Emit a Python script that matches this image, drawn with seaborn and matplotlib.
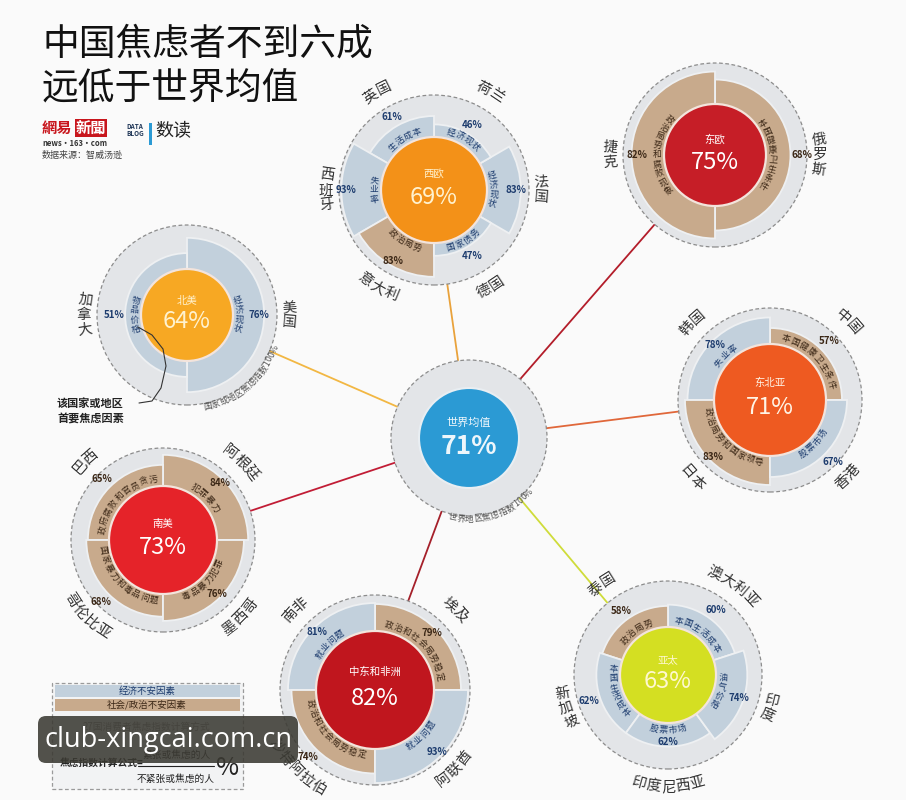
import numpy as np
import pandas as pd
import matplotlib
matplotlib.use("Agg")
import matplotlib.pyplot as plt
from matplotlib.patches import Wedge, Circle, Rectangle, FancyBboxPatch
import seaborn as sns

# ---- data ----
world_label = '世界均值'
world_value = 71

region_names = ['北美', '西欧', '东欧', '东北亚', '亚太', '中东和非洲', '南美']
region_values = [64, 69, 75, 71, 63, 82, 73]

countries = ['美国', '加拿大',
             '法国', '荷兰', '英国', '西班牙', '意大利', '德国',
             '俄罗斯', '捷克',
             '中国', '韩国', '日本', '香港',
             '澳大利亚', '泰国', '新加坡', '印度尼西亚', '印度',
             '埃及', '南非', '沙特阿拉伯', '阿联酋',
             '阿根廷', '巴西', '哥伦比亚', '墨西哥']
country_region = ['北美'] * 2 + ['西欧'] * 6 + ['东欧'] * 2 + ['东北亚'] * 4 + \
                 ['亚太'] * 5 + ['中东和非洲'] * 4 + ['南美'] * 4
country_values = [76, 51,
                  83, 46, 61, 93, 83, 47,
                  68, 82,
                  57, 78, 83, 67,
                  60, 58, 62, 62, 74,
                  79, 81, 74, 93,
                  84, 65, 68, 76]
factors = ['经济现状', '物品价格',
           '经济现状', '经济现状', '生活成本', '失业率', '政治局势', '国家债务',
           '本国健康卫生条件', '政治局势和腐败现象',
           '本国健康卫生条件', '失业率', '政治局势和国家领导', '股票市场',
           '本国生活成本', '政治局势', '本国生活成本', '股票市场', '油气价格',
           '政治和社会局势稳定', '就业问题', '政治和社会局势稳定', '就业问题',
           '犯罪暴力', '政府腐败和官员贪污', '国家暴力和毒品问题', '毒品暴力犯罪']
factor_kinds = ['经济', '经济',
                '经济', '经济', '经济', '经济', '社会', '经济',
                '社会', '社会',
                '社会', '经济', '社会', '经济',
                '经济', '社会', '经济', '经济', '经济',
                '社会', '经济', '社会', '经济',
                '社会', '社会', '社会', '社会']
legend_labels = ['经济不安因素', '社会/政治不安因素']

df = pd.DataFrame({'country': countries, 'region': country_region,
                   'value': country_values, 'factor': factors, 'kind': factor_kinds})

# ---- layout (pixel positions, y down) ----
W, H = 906, 800
world = dict(x=469, y=438, R=78, r=50, color='#2b9ad4')
layout = {
    '北美':     dict(x=187, y=315, R=90, r=46, start=-90, color='#f7a823', line='#f2b743', txt='#fff2cf'),
    '西欧':     dict(x=434, y=190, R=95, r=53, start=-30, color='#f39118', line='#e9a23b', txt='#fff2cf'),
    '东欧':     dict(x=715, y=155, R=92, r=51, start=-90, color='#c61e27', line='#b31d2a', txt='#ffffff'),
    '东北亚':   dict(x=770, y=400, R=92, r=56, start=0, color='#ee5a21', line='#e0673a', txt='#fff4e6'),
    '亚太':     dict(x=668, y=675, R=94, r=48, start=18, color='#d4df22', line='#cfdc3a', txt='#fff8d0'),
    '中东和非洲': dict(x=375, y=690, R=95, r=59, start=0, color='#c0161e', line='#a5202a', txt='#ffffff'),
    '南美':     dict(x=163, y=540, R=92, r=54, start=0, color='#e52329', line='#c11d36', txt='#ffffff'),
}
kind_colors = dict(zip(['经济', '社会'], ['#c2d0dc', '#c8aa8c']))
kind_text = {'经济': '#1d3c6e', '社会': '#3b2716'}

sns.set_theme(style="white")
plt.rcParams['font.family'] = ['Noto Sans CJK SC', 'DejaVu Sans']

bg = '#fafafa'
fig = plt.figure(figsize=(9.06, 8.0), dpi=100, facecolor=bg)
ax = fig.add_axes([0, 0, 1, 1])
ax.set_xlim(0, W)
ax.set_ylim(0, H)
ax.set_facecolor(bg)
ax.axis('off')


def is_side(theta):
    return abs(np.cos(np.radians(theta))) > 0.9


def arc_text(cx, cy, rad, theta, s, size, color, step, weight='normal', z=6):
    """place characters of s one by one along a circle arc"""
    w = np.array([1.0 if ord(ch) > 255 else 0.62 for ch in s]) * step
    pos = np.cumsum(w) - w / 2 - w.sum() / 2
    offs = np.degrees(pos / rad)
    c, sn = np.cos(np.radians(theta)), np.sin(np.radians(theta))
    if is_side(theta):
        if c < 0:
            angs = theta + offs
            rots = angs - 180
        else:
            angs = theta - offs
            rots = angs
    elif sn >= 0:
        angs = theta - offs
        rots = angs - 90
    else:
        angs = theta + offs
        rots = angs + 90
    for ch, a, rt in zip(s, angs, rots):
        x = cx + rad * np.cos(np.radians(a))
        y = (H - cy) + rad * np.sin(np.radians(a))
        ax.text(x, y, ch, rotation=rt, rotation_mode='anchor', ha='center', va='center',
                fontsize=size, color=color, fontweight=weight, zorder=z)


# connection lines
for name in region_names:
    lay = layout[name]
    ax.plot([world['x'], lay['x']], [H - world['y'], H - lay['y']],
            color=lay['line'], lw=1.3, zorder=1)

# world circle
ax.add_patch(Circle((world['x'], H - world['y']), world['R'], fc='#e3e5e8', ec='#8c8c8c',
                    lw=0.9, ls=(0, (3, 2)), zorder=2))
ax.add_patch(Circle((world['x'], H - world['y']), world['r'], fc=world['color'], ec='#e9eef2',
                    lw=1.5, zorder=4))
ax.text(world['x'], H - world['y'] + 15, world_label, ha='center', va='center',
        fontsize=8, color='#eef6fb', zorder=6)
ax.text(world['x'], H - world['y'] - 9, f'{world_value}%', ha='center', va='center',
        fontsize=19, fontweight='bold', color='#eef6fb', zorder=6)
arc_text(world['x'], world['y'], world['R'] + 3, -73, '世界地区焦虑指数100%', 6.3, '#555555', 8.6)

# regional clusters
for name, val in zip(region_names, region_values):
    lay = layout[name]
    cx, cy, R, rc = lay['x'], lay['y'], lay['R'], lay['r']
    X, Y = cx, H - cy
    ax.add_patch(Circle((X, Y), R, fc='#e3e5e8', ec='#8c8c8c', lw=0.9, ls=(0, (3, 2)), zorder=2))
    sub = df[df.region == name].reset_index(drop=True)
    span = 360 / len(sub)
    for i, row in sub.iterrows():
        t1 = lay['start'] + i * span
        tm = t1 + span / 2
        f = np.clip((row.value / 100 - 0.25) / 0.72, 0.3, 1.0)
        rw = rc + (R - rc) * f
        ax.add_patch(Wedge((X, Y), rw, t1, t1 + span, fc=kind_colors[row.kind],
                           ec='#eef0f2', lw=1.3, zorder=3))
        side = is_side(tm)
        # factor text hugging the centre circle
        arc_text(cx, cy, rc + 7, tm, row.factor, 6.3, kind_text[row.kind], 9.5)
        # percentage: inside the wedge tip if it fits, else just outside
        ca, sa = abs(np.cos(np.radians(tm))), abs(np.sin(np.radians(tm)))
        ext = 10 * ca + 4.5 * sa
        pr = rw - 5
        if pr - ext < rc + (10 if side else 11):
            pr = rw + ext + 1
        ax.text(X + pr * np.cos(np.radians(tm)), Y + pr * np.sin(np.radians(tm)),
                f'{row.value}%', ha='center', va='center', fontsize=7,
                fontweight='bold', color=kind_text[row.kind], zorder=6)
        # country name outside the ring
        arc_text(cx, cy, R + (13 if side else 18), tm, row.country, 10.5, '#333333', 15)
    ax.add_patch(Circle((X, Y), rc, fc=lay['color'], ec='#f3e4dc', lw=1.6, zorder=4))
    ax.text(X, Y + rc * 0.3, name, ha='center', va='center', fontsize=7.5,
            color=lay['txt'], zorder=6)
    ax.text(X, Y - rc * 0.14, f'{val}%', ha='center', va='center', fontsize=17,
            color=lay['txt'], zorder=6)

arc_text(layout['北美']['x'], layout['北美']['y'], layout['北美']['R'] + 4, -50,
         '国家或地区焦虑指数100%', 6.3, '#555555', 8.6)

# annotation
lead = np.array([(138, 327), (152, 335), (163, 349), (166, 366), (161, 388), (152, 401), (139, 403)])
ax.plot(lead[:, 0], H - lead[:, 1], color='#333333', lw=0.8, zorder=6)
ax.text(57, H - 403, '该国家或地区', fontsize=8, fontweight='bold', color='#222222', va='center')
ax.text(57, H - 418, '首要焦虑因素', fontsize=8, fontweight='bold', color='#222222', va='center')

# title and sources
ax.text(42, H - 44, '中国焦虑者不到六成', fontsize=26.5, color='#111111', va='center')
ax.text(42, H - 89, '远低于世界均值', fontsize=26.5, color='#111111', va='center')
ax.text(42, H - 128, '網易', fontsize=11, fontweight='bold', color='#c8161d', va='center')
ax.text(76, H - 128, '新聞', fontsize=11, fontweight='bold', color='white', va='center',
        bbox=dict(boxstyle='square,pad=0.05', fc='#c8161d', ec='none'))
ax.text(42, H - 143, 'news·163·com', fontsize=5.5, fontweight='bold', color='#333333', va='center')
ax.text(135, H - 130, 'DATA\nBLOG', fontsize=4.6, fontweight='bold', color='#1e3556',
        ha='center', va='center', linespacing=1.0)
ax.add_patch(Rectangle((149, H - 145), 2.5, 22, fc='#2b9ad4', ec='none'))
ax.text(155, H - 131, '数读', fontsize=13, color='#222222', va='center')
ax.text(42, H - 155, '数据来源：智威汤逊', fontsize=6.5, color='#444444', va='center')

# legend box
ax.add_patch(Rectangle((52, H - 789), 191, 106, fc='#f2f3f4', ec='#9a9a9a', lw=0.9,
                       ls=(0, (3, 2)), zorder=2))
for k, (lab, kind) in enumerate(zip(legend_labels, ['经济', '社会'])):
    top = 685 + k * 14
    ax.add_patch(Rectangle((55, H - top - 12), 185, 12, fc=kind_colors[kind], ec='none', zorder=3))
    ax.text(147, H - top - 6, lab, ha='center', va='center', fontsize=6.8,
            color=kind_text[kind], zorder=4)
ax.text(147, H - 727, '27国消费者焦虑指数计算方式', ha='center', va='center', fontsize=7,
        color='#888888', zorder=4)
ax.text(60, H - 763, '焦虑指数计算公式=', va='center', fontsize=7, fontweight='bold',
        color='#222222', zorder=4)
ax.text(176, H - 755, '紧张或焦虑的人', ha='center', va='center', fontsize=7, color='#222222', zorder=4)
ax.plot([138, 214], [H - 766, H - 766], color='#222222', lw=0.8, zorder=4)
ax.text(176, H - 779, '不紧张或焦虑的人', ha='center', va='center', fontsize=7, color='#222222', zorder=4)
ax.text(228, H - 768, '%', ha='center', va='center', fontsize=18, color='#222222', zorder=4)

# watermark
ax.add_patch(FancyBboxPatch((38, H - 763), 260, 47, boxstyle='round,pad=0,rounding_size=8',
                            fc='#3b3a33', ec='none', alpha=0.88, zorder=10))
ax.text(169, H - 740, 'club-xingcai.com.cn', ha='center', va='center', fontsize=19.5,
        color='white', family='Open Sans', zorder=11)

fig.savefig('out.png', dpi=100, facecolor=bg)
